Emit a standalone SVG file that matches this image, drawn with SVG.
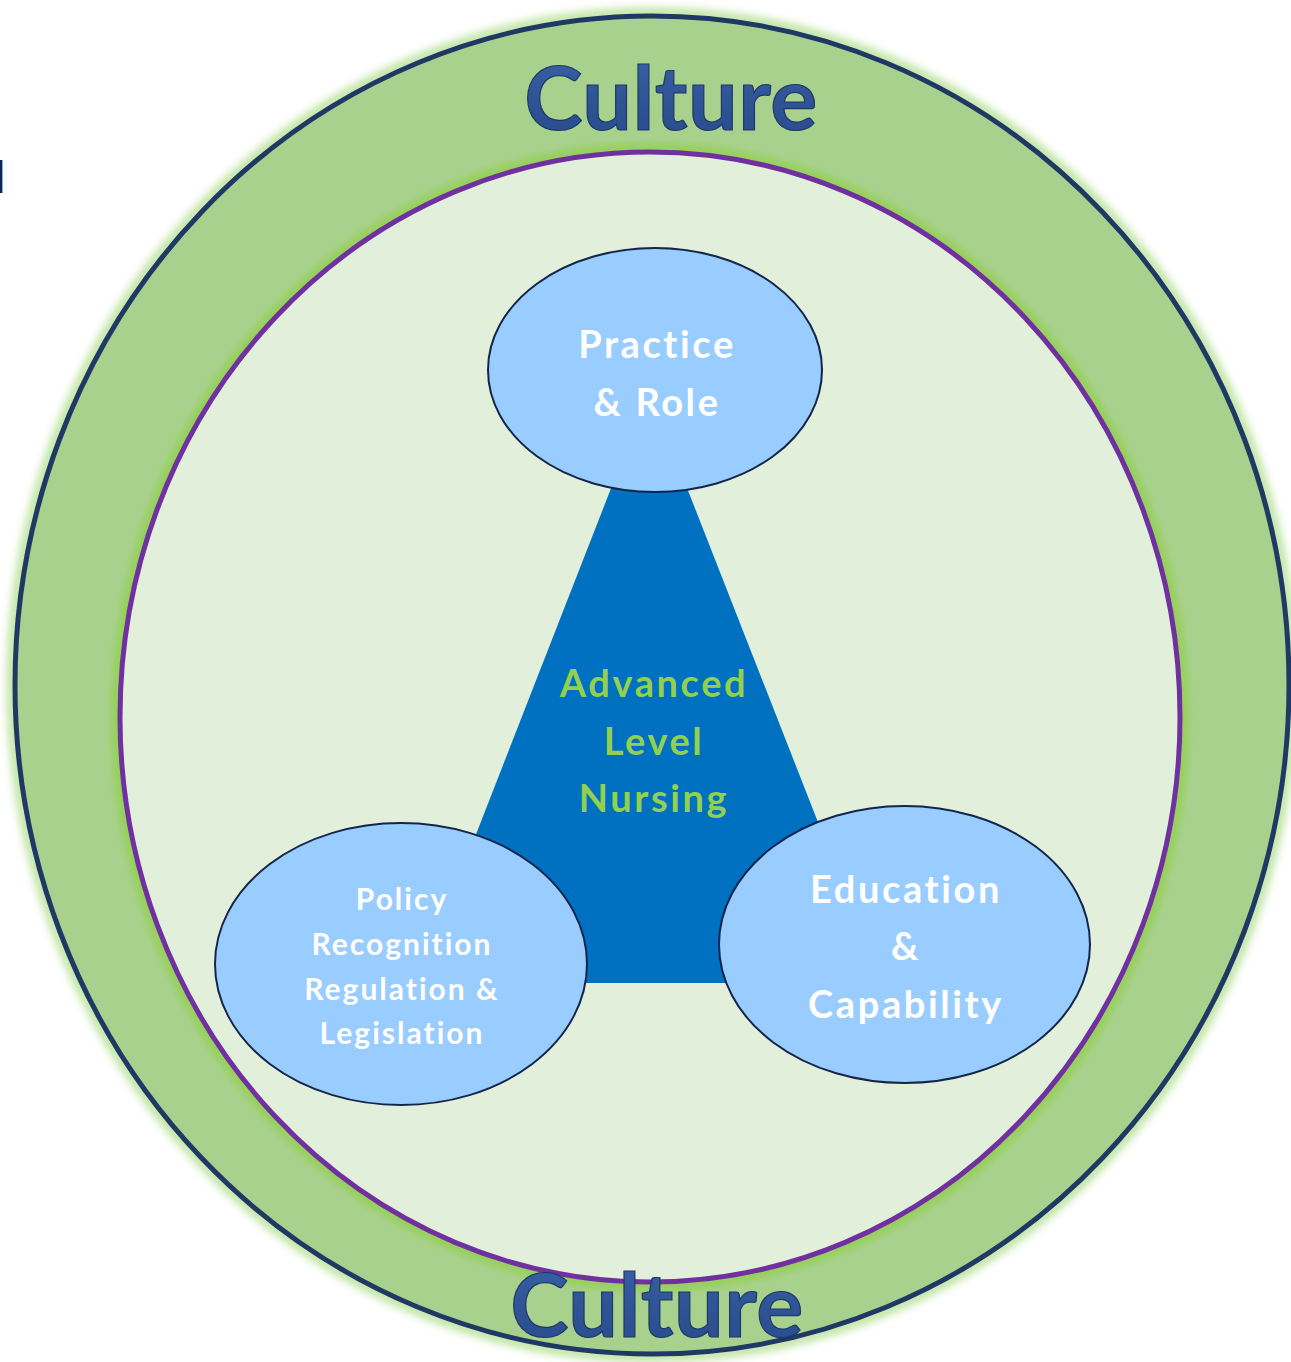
<svg xmlns="http://www.w3.org/2000/svg" width="1291" height="1362" viewBox="0 0 1291 1362">
  <defs>
    <style>
      .lbl { font-family: Lato, "Open Sans", "Liberation Sans", sans-serif; font-weight: 700; text-anchor: middle; font-variant-ligatures: none; }
      .white { fill: #FFFFFF; }
      .core { fill: #92D050; }
      .big { font-size: 38px; letter-spacing: 2.6px; }
      .small { font-size: 30px; letter-spacing: 2px; }
      .culture { fill: url(#bevel); stroke: #1F3864; stroke-width: 1.2; font-size: 88px; letter-spacing: 0.5px; }
      .node { fill: #99CCFF; stroke: #14254A; stroke-width: 2; }
    </style>
    <linearGradient id="bevel" x1="0" y1="0" x2="0" y2="1">
      <stop offset="0" stop-color="#3B64AA"/>
      <stop offset="0.5" stop-color="#2F5597"/>
      <stop offset="1" stop-color="#284C8C"/>
    </linearGradient>
    <filter id="glow" x="-10%" y="-10%" width="120%" height="120%">
      <feGaussianBlur stdDeviation="4"/>
    </filter>
  </defs>

  <!-- cropped caption letter at the left margin -->
  <text x="-20" y="193" font-family="Lato, 'Liberation Sans', sans-serif" font-weight="700" font-size="44" fill="#14254A">d</text>

  <!-- outer ring: culture -->
  <g id="culture-ring">
    <ellipse cx="652" cy="685" rx="640" ry="672" fill="none" stroke="#B9E29A" stroke-width="10" filter="url(#glow)"/>
    <ellipse cx="652" cy="685" rx="637" ry="669" fill="#A9D18E" stroke="#1F3864" stroke-width="5"/>
  </g>

  <!-- inner field -->
  <g id="inner-field">
    <ellipse cx="650" cy="717" rx="533" ry="568" fill="none" stroke="#92D050" stroke-width="10" filter="url(#glow)"/>
    <ellipse cx="650" cy="717" rx="530" ry="565" fill="#E2EFDA" stroke="#7030A0" stroke-width="5"/>
  </g>

  <!-- central triangle -->
  <g id="advanced-level-nursing">
    <polygon points="649,391 881,983 418,983" fill="#0070C0"/>
    <text class="lbl core big" x="654" y="697">Advanced</text>
    <text class="lbl core big" x="654" y="755">Level</text>
    <text class="lbl core big" x="654" y="812">Nursing</text>
  </g>

  <g id="practice-role">
    <ellipse class="node" cx="655" cy="370" rx="167" ry="122"/>
    <text class="lbl white big" x="657" y="358">Practice</text>
    <text class="lbl white big" x="657" y="416">&amp; Role</text>
  </g>

  <g id="policy">
    <ellipse class="node" cx="401" cy="964" rx="186" ry="141"/>
    <text class="lbl white small" x="402" y="910">Policy</text>
    <text class="lbl white small" x="402" y="955">Recognition</text>
    <text class="lbl white small" x="402" y="1000">Regulation &amp;</text>
    <text class="lbl white small" x="402" y="1044">Legislation</text>
  </g>

  <g id="education-capability">
    <ellipse class="node" cx="904.5" cy="944.5" rx="185.5" ry="138.5"/>
    <text class="lbl white big" x="906" y="903">Education</text>
    <text class="lbl white big" x="906" y="960">&amp;</text>
    <text class="lbl white big" x="906" y="1018">Capability</text>
  </g>

  <!-- ring titles -->
  <g id="culture-labels">
    <text class="lbl culture" x="671" y="130">Culture</text>
    <text class="lbl culture" x="657" y="1337">Culture</text>
  </g>

  <!-- connectors: none drawn -->
  <g id="connectors"/>
</svg>
